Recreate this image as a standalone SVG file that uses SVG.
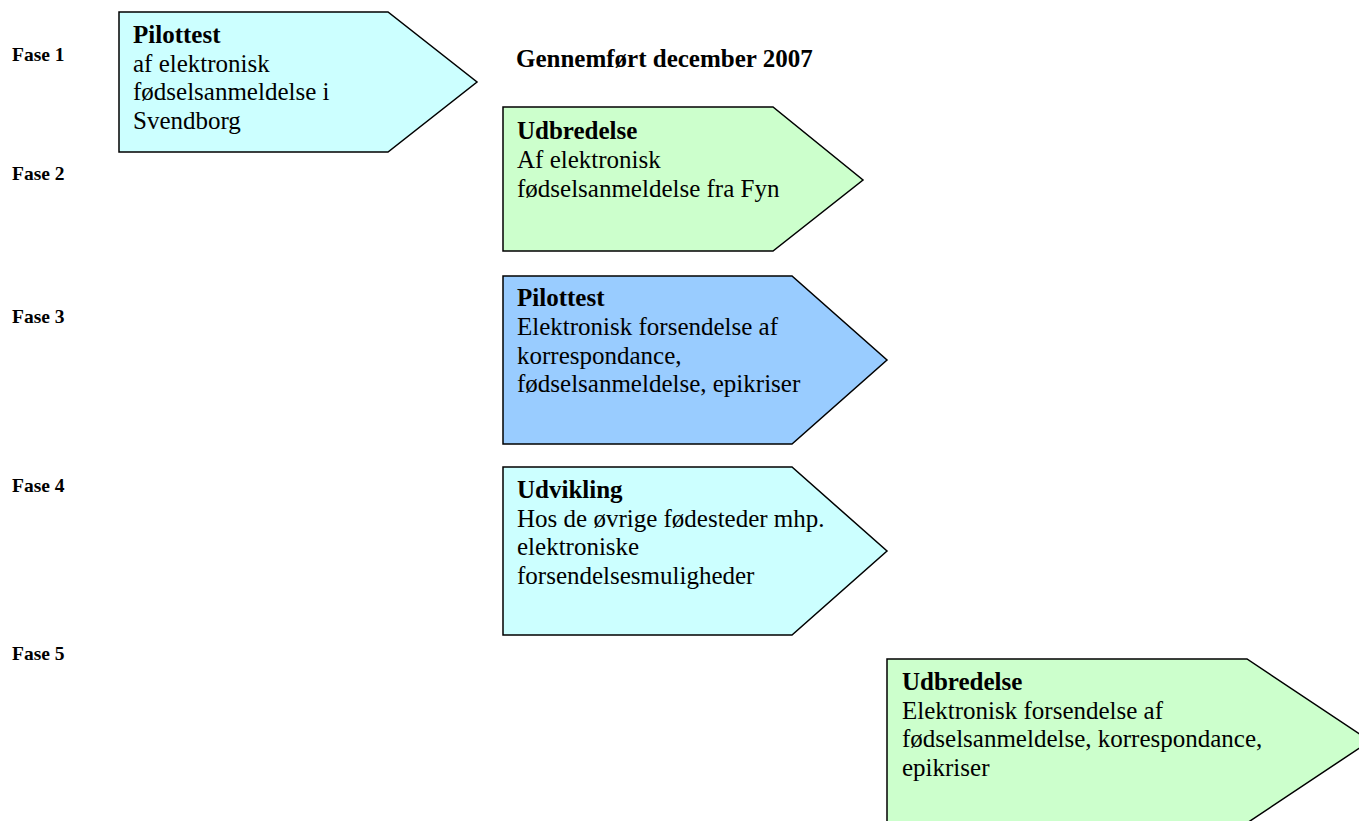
<svg xmlns="http://www.w3.org/2000/svg" width="1359" height="821" viewBox="0 0 1359 821">
<style>
.lbl{font-family:"Liberation Serif","Times New Roman",serif;font-weight:bold;font-size:19.5px;fill:#000}
.t{font-family:"Liberation Serif","Times New Roman",serif;font-size:25px;fill:#000}
.b{font-weight:bold}
.shape{stroke:#000;stroke-width:1.5}
</style>
<rect width="1359" height="821" fill="#fff"/>
<g id="labels">
<text class="lbl" x="12" y="61">Fase 1</text>
<text class="lbl" x="12" y="180">Fase 2</text>
<text class="lbl" x="12" y="323">Fase 3</text>
<text class="lbl" x="12" y="492">Fase 4</text>
<text class="lbl" x="12" y="660">Fase 5</text>
<text class="t b" x="516" y="67">Gennemført december 2007</text>
</g>
<g id="connectors"></g>
<g id="node1">
<polygon class="shape" fill="#CCFFFF" points="119,12 388,12 477,82 388,152 119,152"/>
<text class="t" x="133" y="43"><tspan class="b">Pilottest</tspan><tspan x="133" y="72">af elektronisk</tspan><tspan x="133" y="100">fødselsanmeldelse i</tspan><tspan x="133" y="129">Svendborg</tspan></text>
</g>
<g id="node2">
<polygon class="shape" fill="#CCFFCC" points="503,107 773,107 863,180 773,251 503,251"/>
<text class="t" x="517" y="139"><tspan class="b">Udbredelse</tspan><tspan x="517" y="168">Af elektronisk</tspan><tspan x="517" y="197">fødselsanmeldelse fra Fyn</tspan></text>
</g>
<g id="node3">
<polygon class="shape" fill="#99CCFF" points="503,276 792,276 887,360 792,444 503,444"/>
<text class="t" x="517" y="306"><tspan class="b">Pilottest</tspan><tspan x="517" y="335">Elektronisk forsendelse af</tspan><tspan x="517" y="364">korrespondance,</tspan><tspan x="517" y="392">fødselsanmeldelse, epikriser</tspan></text>
</g>
<g id="node4">
<polygon class="shape" fill="#CCFFFF" points="503,467 792,467 887,551 792,635 503,635"/>
<text class="t" x="517" y="498"><tspan class="b">Udvikling</tspan><tspan x="517" y="527">Hos de øvrige fødesteder mhp.</tspan><tspan x="517" y="555">elektroniske</tspan><tspan x="517" y="584">forsendelsesmuligheder</tspan></text>
</g>
<g id="node5">
<polygon class="shape" fill="#CCFFCC" points="887,659 1247,659 1370,741 1247,823 887,823"/>
<text class="t" x="902" y="690"><tspan class="b">Udbredelse</tspan><tspan x="902" y="719">Elektronisk forsendelse af</tspan><tspan x="902" y="747">fødselsanmeldelse, korrespondance,</tspan><tspan x="902" y="776">epikriser</tspan></text>
</g>
</svg>
